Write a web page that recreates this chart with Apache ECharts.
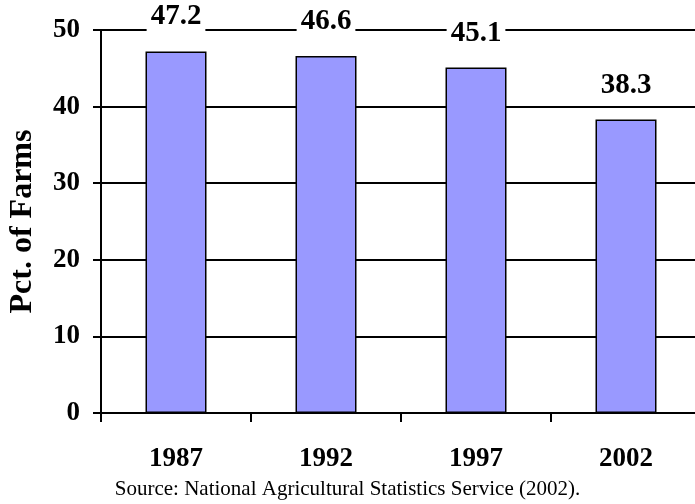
<!DOCTYPE html>
<html>
<head>
<meta charset="utf-8">
<title>Pct. of Farms</title>
<script src="https://cdn.jsdelivr.net/npm/echarts@6/dist/echarts.min.js"></script>
<style>
  html, body { margin: 0; padding: 0; background: #fff; }
  #main { width: 695px; height: 504px; }
</style>
</head>
<body>
<div id="main"></div>
<script type="text/javascript">
var years = ['1987', '1992', '1997', '2002'];
var pctFarms = [47.2, 46.6, 45.1, 38.3];
var yTicks = [0, 10, 20, 30, 40, 50];

var serif = '"Liberation Serif", "Times New Roman", serif';
var chart = echarts.init(document.getElementById('main'));

var option = {
    backgroundColor: '#fff',
    animation: false,
    grid: { left: 101, top: 30, width: 600, height: 383, outerBoundsMode: 'none', containLabel: false },
    title: {
        text: 'Source: National Agricultural Statistics Service (2002).',
        left: 'center',
        top: 474,
        textStyle: { fontFamily: serif, fontWeight: 'normal', fontSize: 21, color: '#000' }
    },
    xAxis: {
        type: 'category',
        data: years,
        axisLine: { lineStyle: { color: '#000', width: 2 } },
        axisTick: { show: true, length: 9, lineStyle: { color: '#000', width: 2 } },
        axisLabel: { margin: 33, fontFamily: serif, fontWeight: 'bold', fontSize: 27, color: '#000' }
    },
    yAxis: {
        type: 'value',
        min: yTicks[0],
        max: yTicks[yTicks.length - 1],
        interval: 10,
        name: 'Pct. of Farms',
        nameLocation: 'middle',
        nameGap: 62,
        nameTextStyle: { fontFamily: serif, fontWeight: 'bold', fontSize: 32, color: '#000' },
        axisLine: { show: true, lineStyle: { color: '#000', width: 2 } },
        axisTick: { show: true, length: 8, lineStyle: { color: '#000', width: 2 } },
        splitLine: { lineStyle: { color: '#000', width: 2 } },
        axisLabel: { margin: 21, fontFamily: serif, fontWeight: 'bold', fontSize: 27, color: '#000' }
    },
    series: [{
        type: 'bar',
        data: pctFarms,
        barWidth: 61,
        itemStyle: { color: '#9999ff', borderColor: '#000', borderWidth: 1.5 },
        label: {
            show: true,
            position: 'top',
            distance: 20,
            formatter: function (p) { return p.value.toFixed(1); },
            fontFamily: serif,
            fontWeight: 'bold',
            fontSize: 29,
            color: '#000',
            backgroundColor: '#fff',
            padding: [0, 4]
        }
    }]
};

chart.setOption(option);
</script>
</body>
</html>
